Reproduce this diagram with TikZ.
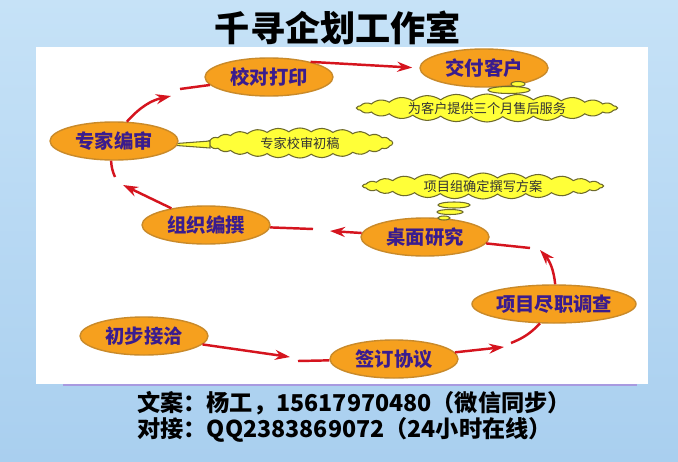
\documentclass[tikz,border=0pt]{standalone}
\usepackage{fontspec}
\setmainfont{Noto Sans CJK SC}
\usepackage{tikz}
\usetikzlibrary{arrows.meta,shapes.geometric,shapes.symbols}
\definecolor{SkyTop}{HTML}{C6E2F7}
\definecolor{SkyBottom}{HTML}{A9CFEF}
\definecolor{StepFill}{HTML}{F6A01E}
\definecolor{StepLine}{HTML}{C98A2A}
\definecolor{StepText}{HTML}{3A1C8E}
\definecolor{FlowRed}{HTML}{D5141E}
\definecolor{NoteFill}{HTML}{FFFF38}
\definecolor{NoteLine}{HTML}{6E6A2C}
\definecolor{RuleLilac}{HTML}{A89AE0}

\begin{document}
\begin{tikzpicture}[x=0.2mm,y=-0.2mm,
  stepbox/.style={ellipse,fill=StepFill,draw=StepLine,line width=0.8pt,
    minimum width=25.6mm,minimum height=7.6mm,inner sep=0pt,
    text=StepText,font=\fontsize{11}{11}\selectfont\bfseries},
  notebox/.style={cloud,cloud ignores aspect,cloud puffs=26,cloud puff arc=75,
    fill=NoteFill,draw=NoteLine,line width=0.6pt,inner sep=0pt,
    text=black!80,font=\fontsize{7.5}{7.5}\selectfont},
  bubble/.style={fill=NoteFill,draw=NoteLine,line width=0.6pt},
  flow/.style={draw=FlowRed,line width=1.4pt},
  tip/.style={-{Stealth[length=3mm,width=2mm]}}]
  \coordinate (A) at (0,0); \coordinate (B) at (678,461);
  \path[use as bounding box,top color=SkyTop,bottom color=SkyBottom]
       (A) rectangle (B);
  \fill[white] (36,47) rectangle (648,384);
  \draw[RuleLilac,line width=1pt] (63,385) -- (637,385);
  \node[font=\fontsize{20}{20}\selectfont\bfseries] (title) at (338,28)
    {千寻企划工作室};

  \node[notebox,minimum width=37mm,minimum height=6mm] (shengao) at (300,143)
    {专家校审初稿};
  \node[notebox,minimum width=52mm,minimum height=5.6mm] (shouhou) at (487,108)
    {为客户提供三个月售后服务};
  \node[notebox,minimum width=48mm,minimum height=5.2mm] (fangan) at (483,186)
    {项目组确定撰写方案};
  \filldraw[bubble] (210,141) -- (163,144.5) -- (210,148) -- cycle;

  \node[stepbox] (jiaodui)  at (269,77)  {校对打印};
  \node[stepbox] (jiaofu)   at (484,68)  {交付客户};
  \node[stepbox] (zhuanjia) at (114,141) {专家编审};
  \node[stepbox] (zuzhi)    at (206,225) {组织编撰};
  \node[stepbox] (zhuomian) at (425,237) {桌面研究};
  \node[stepbox] (jinzhi)   at (554,304) {项目尽职调查};
  \node[stepbox] (qianding) at (394,359) {签订协议};
  \node[stepbox] (chubu)    at (144,336) {初步接洽};

  \filldraw[bubble] (518,84) ellipse (7 and 2.5);
  \filldraw[bubble] (509,90) ellipse (21 and 3.5);
  \filldraw[bubble] (454,205) ellipse (16 and 3);
  \filldraw[bubble] (450,212) ellipse (13 and 2.5);
  \filldraw[bubble] (444,218) ellipse (6 and 2);

  \coordinate (q1) at (290,357); \coordinate (q2) at (298,361);
  \coordinate (j1) at (504,347); \coordinate (j2) at (511,343);
  \coordinate (z1) at (540,250); \coordinate (z2) at (530,248);
  \coordinate (o1) at (330,231); \coordinate (o2) at (313,229);
  \coordinate (e1) at (123,185); \coordinate (e2) at (115,177);
  \coordinate (d1) at (171,96);  \coordinate (d2) at (180,89);

  \draw[flow,tip] (chubu) -- (q1);
  \draw[flow] (q2) -- (qianding);
  \draw[flow,tip] (qianding) -- (j1);
  \draw[flow] (j2) to[bend right=12] (jinzhi);
  \draw[flow,tip] (jinzhi) to[bend right=18] (z1);
  \draw[flow] (z2) -- (zhuomian);
  \draw[flow,tip] (zhuomian) -- (o1);
  \draw[flow] (o2) -- (zuzhi);
  \draw[flow,tip] (zuzhi) -- (e1);
  \draw[flow] (e2) to[bend left=10] (zhuanjia);
  \draw[flow,tip] (zhuanjia) to[bend left=18] (d1);
  \draw[flow] (d2) -- (jiaodui);
  \draw[flow,tip,shorten >=4pt] (jiaodui.20) -- (jiaofu.west);

  \node[font=\fontsize{13.2}{13.2}\selectfont\bfseries,anchor=west] (wenan)
    at (131,403) {文案：杨工，15617970480（微信同步）};
  \node[font=\fontsize{13.2}{13.2}\selectfont\bfseries,anchor=west] (duijie)
    at (131,430) {对接：QQ2383869072（24小时在线）};
\end{tikzpicture}
\end{document}
